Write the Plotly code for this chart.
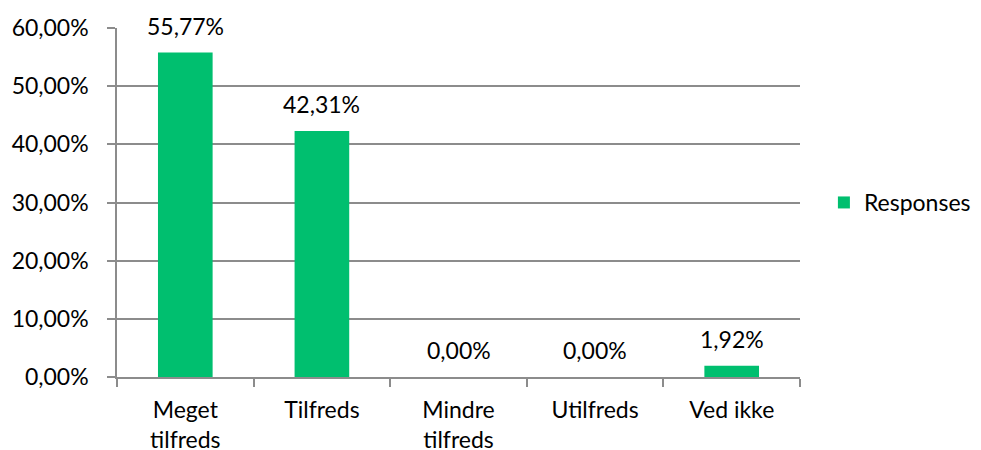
import plotly.graph_objects as go

categories = ["Meget<br>tilfreds", "Tilfreds", "Mindre<br>tilfreds", "Utilfreds", "Ved ikke"]
values = [0.5577, 0.4231, 0.0, 0.0, 0.0192]
labels = ["55,77%", "42,31%", "0,00%", "0,00%", "1,92%"]
series_name = "Responses"

FONT = "Lato"
FS = 23
GREEN = "#00BF6F"
GRID = "#8C8C8C"

fig = go.Figure()
fig.add_trace(go.Bar(
    x=categories, y=values, name=series_name,
    marker=dict(color=GREEN, line=dict(width=0)),
    showlegend=True,
))
for c, v, t in zip(categories, values, labels):
    fig.add_annotation(x=c, y=v, text=t, showarrow=False, yanchor="middle",
                       yshift=27, font=dict(family=FONT, size=FS, color="black"))

fig.update_layout(
    width=973, height=442,
    margin=dict(l=109, r=181, t=20, b=73, autoexpand=False),
    paper_bgcolor="white", plot_bgcolor="white",
    separators=",.",
    bargap=0.6,
    font=dict(family=FONT, size=FS, color="black"),
    showlegend=True,
    legend=dict(x=1.035, xanchor="left", y=0.5, yanchor="middle",
                font=dict(family=FONT, size=FS, color="black"),
                itemwidth=30),
    xaxis=dict(
        showline=True, linecolor=GRID, linewidth=1.5,
        ticks="outside", tickson="boundaries", ticklen=8, tickcolor=GRID, tickwidth=1.5,
        showgrid=False, ticklabelstandoff=12,
    ),
    yaxis=dict(
        range=[0, 0.6], dtick=0.1, tickformat=".2%",
        showline=True, linecolor=GRID, linewidth=1.5,
        ticks="outside", ticklen=8, tickcolor=GRID, tickwidth=1.5,
        showgrid=True, gridcolor=GRID, gridwidth=1.5,
        zeroline=False, ticklabelstandoff=14,
    ),
)

fig.write_html("out.html")
